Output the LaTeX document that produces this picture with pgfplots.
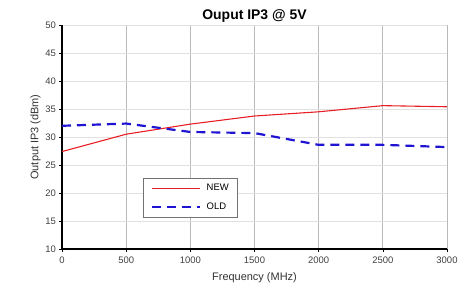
\documentclass[border=0pt]{standalone}
\usepackage{pgfplots}
\pgfplotsset{compat=1.18}
\usepackage{fontspec}
\setmainfont{Liberation Sans}
\definecolor{newred}{RGB}{232,30,36}
\definecolor{oldblue}{RGB}{30,20,210}
\definecolor{vgrid}{RGB}{185,185,185}
\definecolor{hgrid}{RGB}{225,225,225}
\begin{document}
\begin{tikzpicture}
\useasboundingbox (-62bp,-36bp) rectangle (414bp,249bp);
\begin{axis}[
  scale only axis,
  width=385bp, height=224bp,
  xmin=0, xmax=3000, ymin=10, ymax=50,
  xtick={0,500,...,3000}, ytick={10,15,...,50},
  /pgf/number format/assume math mode=true,
  /pgf/number format/1000 sep={},
  tick label style={font=\fontsize{9.5}{10}\selectfont, text=black!75},
  xticklabel style={yshift=-2bp},
  xmajorgrids, ymajorgrids,
  x grid style={vgrid, line width=0.9pt},
  y grid style={hgrid, line width=0.6pt},
  axis x line*=bottom, axis y line*=left,
  axis line style={black, line width=1.5pt, -},
  tick style={black, line width=0.6pt},
  tick align=outside, major tick length=2.5bp,
  title={\textbf{Ouput IP3 @ 5V}},
  title style={font=\fontsize{14}{16}\selectfont, yshift=-7bp},
  xlabel={Frequency (MHz)}, ylabel={Output IP3 (dBm)},
  label style={font=\fontsize{11}{12}\selectfont, text=black!80},
  xlabel style={yshift=-2bp},
  ylabel style={yshift=-2bp},
  legend style={at={(0.211,0.317)}, anchor=north west, draw=black!55, line width=0.6pt,
    font=\fontsize{9.5}{11}\selectfont, row sep=7bp, inner xsep=7bp, inner ysep=4bp,
    /tikz/every odd column/.append style={column sep=4bp}},
  legend cell align=left,
  legend image code/.code={\draw[#1] (0bp,0bp) -- (48bp,0bp);},
]
\addplot[color=newred, line width=1.1pt] coordinates {
 (0,27.4) (500,30.5) (1000,32.3) (1500,33.75) (2000,34.5) (2500,35.6) (3000,35.4)};
\addlegendentry{NEW}
\addplot[color=oldblue, line width=2.2pt, dash pattern=on 9bp off 6bp] coordinates {
 (0,32.0) (500,32.4) (1000,30.9) (1500,30.7) (2000,28.6) (2500,28.6) (3000,28.2)};
\addlegendentry{OLD}
\end{axis}
\end{tikzpicture}
\end{document}
